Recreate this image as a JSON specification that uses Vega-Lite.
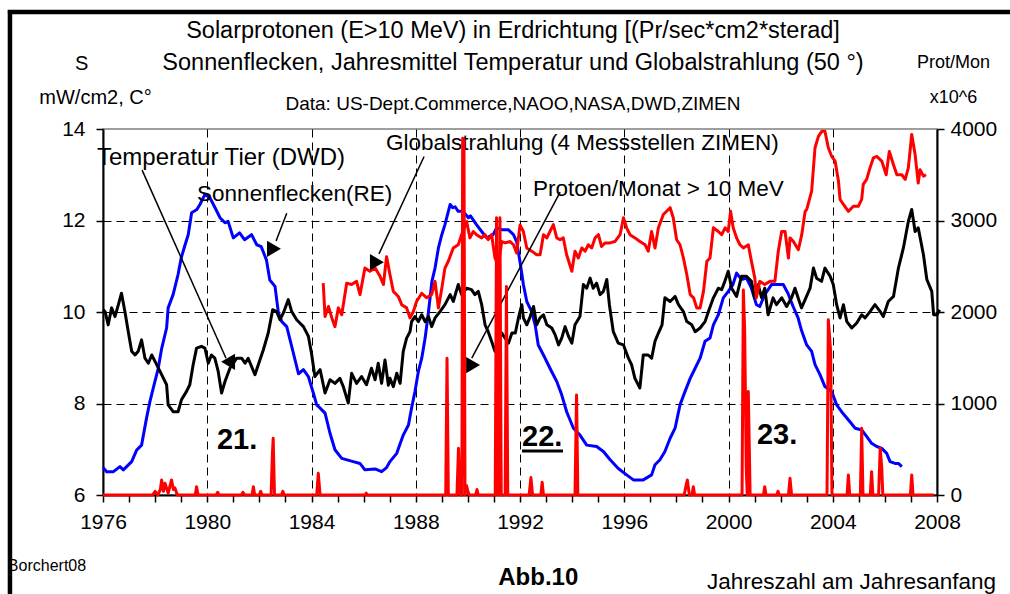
{
 "$schema": "https://vega.github.io/schema/vega-lite/v6.json",
 "width": 834, "height": 366,
 "autosize": {"type": "none"},
 "padding": {"left": 103, "top": 129, "right": 73, "bottom": 99},
 "background": "white",
 "config": {
  "font": "Liberation Sans",
  "view": {"stroke": "#7f7f7f", "strokeWidth": 1.5},
  "axis": {"labelFont": "Liberation Sans", "titleFont": "Liberation Sans", "labelColor": "black", "titleColor": "black", "domainColor": "black", "tickColor": "black", "labelFontSize": 21, "titleFontWeight": "normal", "labelFlush": false, "labelOverlap": false, "domainWidth": 2, "tickWidth": 1.5, "tickSize": 7}
 },
 "title": {
  "text": ["Solarprotonen (E>10 MeV) in Erdrichtung [(Pr/sec*cm2*sterad]", "Sonnenflecken, Jahresmittel Temperatur und Globalstrahlung (50 °)"],
  "subtitle": "Data: US-Dept.Commerce,NAOO,NASA,DWD,ZIMEN",
  "anchor": "middle", "frame": "group", "dx": -7,
  "font": "Liberation Sans", "fontSize": 23.5, "fontWeight": "normal", "color": "black", "lineHeight": 32,
  "subtitleFont": "Liberation Sans", "subtitleFontSize": 19, "subtitleColor": "black", "subtitlePadding": 20, "offset": -106
 },
 "datasets": {
  "blue": [
   {"t":1976.0,"v":6.6},{"t":1976.14,"v":6.51},{"t":1976.4,"v":6.51},{"t":1976.65,"v":6.62},{"t":1976.78,"v":6.55},{"t":1977.1,"v":6.73},{"t":1977.29,"v":6.98},{"t":1977.48,"v":7.09},{"t":1977.67,"v":7.68},{"t":1977.8,"v":8.04},{"t":1977.93,"v":8.34},{"t":1978.12,"v":8.77},{"t":1978.25,"v":9.2},{"t":1978.44,"v":9.65},{"t":1978.5,"v":10.09},{"t":1978.69,"v":10.38},{"t":1978.88,"v":10.82},{"t":1979.0,"v":11.18},{"t":1979.15,"v":11.47},{"t":1979.27,"v":11.69},{"t":1979.4,"v":12.17},{"t":1979.6,"v":12.24},{"t":1979.72,"v":12.35},{"t":1979.91,"v":12.57},{"t":1980.1,"v":12.5},{"t":1980.3,"v":12.28},{"t":1980.49,"v":12.06},{"t":1980.68,"v":11.95},{"t":1980.8,"v":11.98},{"t":1981.0,"v":11.62},{"t":1981.24,"v":11.73},{"t":1981.43,"v":11.58},{"t":1981.7,"v":11.69},{"t":1981.9,"v":11.47},{"t":1982.07,"v":11.43},{"t":1982.27,"v":11.14},{"t":1982.4,"v":10.7},{"t":1982.6,"v":10.56},{"t":1982.73,"v":9.98},{"t":1982.86,"v":9.79},{"t":1983.05,"v":9.68},{"t":1983.24,"v":9.25},{"t":1983.5,"v":8.65},{"t":1983.69,"v":8.74},{"t":1983.88,"v":8.59},{"t":1984.07,"v":8.23},{"t":1984.2,"v":7.97},{"t":1984.33,"v":7.9},{"t":1984.52,"v":7.79},{"t":1984.71,"v":7.35},{"t":1984.9,"v":6.99},{"t":1985.16,"v":6.8},{"t":1985.6,"v":6.73},{"t":1985.86,"v":6.69},{"t":1986.05,"v":6.55},{"t":1986.44,"v":6.57},{"t":1986.69,"v":6.51},{"t":1986.88,"v":6.6},{"t":1987.01,"v":6.73},{"t":1987.27,"v":6.91},{"t":1987.52,"v":7.31},{"t":1987.72,"v":7.53},{"t":1987.84,"v":7.9},{"t":1987.97,"v":8.26},{"t":1988.1,"v":8.7},{"t":1988.23,"v":8.99},{"t":1988.36,"v":9.43},{"t":1988.49,"v":10.01},{"t":1988.62,"v":10.67},{"t":1988.74,"v":10.96},{"t":1988.87,"v":11.4},{"t":1989.0,"v":11.69},{"t":1989.12,"v":11.91},{"t":1989.32,"v":12.35},{"t":1989.42,"v":12.28},{"t":1989.51,"v":12.3},{"t":1989.63,"v":12.2},{"t":1989.82,"v":12.2},{"t":1990.02,"v":12.06},{"t":1990.1,"v":12.1},{"t":1990.33,"v":11.91},{"t":1990.53,"v":11.76},{"t":1990.72,"v":11.62},{"t":1990.97,"v":11.69},{"t":1991.1,"v":11.84},{"t":1991.3,"v":11.8},{"t":1991.55,"v":11.8},{"t":1991.75,"v":11.69},{"t":1991.87,"v":11.54},{"t":1992.0,"v":11.1},{"t":1992.13,"v":10.6},{"t":1992.26,"v":10.23},{"t":1992.45,"v":10.01},{"t":1992.58,"v":9.72},{"t":1992.7,"v":9.28},{"t":1992.9,"v":9.06},{"t":1993.15,"v":8.77},{"t":1993.41,"v":8.48},{"t":1993.6,"v":8.19},{"t":1993.79,"v":7.82},{"t":1994.05,"v":7.46},{"t":1994.3,"v":7.31},{"t":1994.56,"v":7.09},{"t":1994.94,"v":7.06},{"t":1995.2,"v":6.95},{"t":1995.46,"v":6.77},{"t":1995.77,"v":6.58},{"t":1996.09,"v":6.44},{"t":1996.35,"v":6.33},{"t":1996.73,"v":6.33},{"t":1997.05,"v":6.44},{"t":1997.18,"v":6.66},{"t":1997.37,"v":6.77},{"t":1997.56,"v":6.95},{"t":1997.76,"v":7.24},{"t":1997.95,"v":7.46},{"t":1998.14,"v":7.97},{"t":1998.33,"v":8.26},{"t":1998.53,"v":8.55},{"t":1998.72,"v":8.77},{"t":1998.91,"v":8.99},{"t":1999.1,"v":9.36},{"t":1999.29,"v":9.43},{"t":1999.42,"v":9.72},{"t":1999.61,"v":9.94},{"t":1999.8,"v":10.31},{"t":1999.99,"v":10.45},{"t":2000.17,"v":10.6},{"t":2000.31,"v":10.85},{"t":2000.5,"v":10.71},{"t":2000.69,"v":10.74},{"t":2000.88,"v":10.52},{"t":2001.07,"v":10.16},{"t":2001.2,"v":10.12},{"t":2001.39,"v":10.38},{"t":2001.65,"v":10.6},{"t":2001.83,"v":10.6},{"t":2002.1,"v":10.6},{"t":2002.28,"v":10.41},{"t":2002.48,"v":10.12},{"t":2002.67,"v":9.87},{"t":2002.8,"v":9.6},{"t":2003.0,"v":9.28},{"t":2003.19,"v":9.14},{"t":2003.32,"v":8.85},{"t":2003.51,"v":8.63},{"t":2003.7,"v":8.37},{"t":2003.96,"v":8.26},{"t":2004.15,"v":7.97},{"t":2004.34,"v":7.82},{"t":2004.66,"v":7.6},{"t":2004.86,"v":7.46},{"t":2005.11,"v":7.42},{"t":2005.3,"v":7.28},{"t":2005.49,"v":7.13},{"t":2005.69,"v":7.06},{"t":2005.88,"v":7.02},{"t":2006.07,"v":6.91},{"t":2006.2,"v":6.73},{"t":2006.39,"v":6.69},{"t":2006.52,"v":6.69},{"t":2006.65,"v":6.62}
  ],
  "black": [
   {"t":1976.0,"v":10.05},{"t":1976.08,"v":10.01},{"t":1976.2,"v":9.72},{"t":1976.33,"v":10.09},{"t":1976.46,"v":9.9},{"t":1976.59,"v":10.16},{"t":1976.71,"v":10.41},{"t":1976.84,"v":10.01},{"t":1976.97,"v":9.57},{"t":1977.1,"v":9.14},{"t":1977.23,"v":9.06},{"t":1977.35,"v":9.14},{"t":1977.48,"v":9.39},{"t":1977.61,"v":8.99},{"t":1977.74,"v":8.88},{"t":1977.87,"v":9.06},{"t":1978.06,"v":8.85},{"t":1978.25,"v":8.63},{"t":1978.44,"v":8.41},{"t":1978.5,"v":7.97},{"t":1978.69,"v":7.82},{"t":1978.88,"v":7.82},{"t":1979.01,"v":8.08},{"t":1979.2,"v":8.26},{"t":1979.33,"v":8.41},{"t":1979.46,"v":8.85},{"t":1979.59,"v":9.21},{"t":1979.78,"v":9.25},{"t":1979.91,"v":9.21},{"t":1980.04,"v":8.88},{"t":1980.16,"v":9.06},{"t":1980.29,"v":8.99},{"t":1980.42,"v":8.7},{"t":1980.55,"v":8.23},{"t":1980.68,"v":8.48},{"t":1980.87,"v":8.77},{"t":1981.0,"v":8.88},{"t":1981.13,"v":8.99},{"t":1981.32,"v":8.99},{"t":1981.45,"v":8.88},{"t":1981.57,"v":8.99},{"t":1981.83,"v":8.63},{"t":1982.02,"v":8.95},{"t":1982.15,"v":9.17},{"t":1982.34,"v":9.54},{"t":1982.51,"v":10.05},{"t":1982.66,"v":10.01},{"t":1982.79,"v":9.83},{"t":1982.92,"v":9.98},{"t":1983.11,"v":10.27},{"t":1983.24,"v":10.01},{"t":1983.43,"v":9.83},{"t":1983.69,"v":9.68},{"t":1983.88,"v":9.47},{"t":1984.0,"v":9.1},{"t":1984.13,"v":8.59},{"t":1984.33,"v":8.74},{"t":1984.52,"v":8.23},{"t":1984.71,"v":8.52},{"t":1984.9,"v":8.44},{"t":1985.09,"v":8.55},{"t":1985.22,"v":8.37},{"t":1985.41,"v":8.01},{"t":1985.54,"v":8.66},{"t":1985.73,"v":8.44},{"t":1985.92,"v":8.59},{"t":1986.11,"v":8.41},{"t":1986.3,"v":8.77},{"t":1986.44,"v":8.52},{"t":1986.56,"v":8.88},{"t":1986.69,"v":8.44},{"t":1986.82,"v":8.95},{"t":1986.95,"v":8.4},{"t":1987.01,"v":8.55},{"t":1987.14,"v":8.37},{"t":1987.27,"v":8.66},{"t":1987.4,"v":8.44},{"t":1987.52,"v":9.14},{"t":1987.65,"v":9.43},{"t":1987.78,"v":9.57},{"t":1987.84,"v":9.79},{"t":1987.97,"v":9.9},{"t":1988.1,"v":9.79},{"t":1988.23,"v":9.94},{"t":1988.36,"v":9.79},{"t":1988.49,"v":9.9},{"t":1988.61,"v":9.68},{"t":1988.74,"v":9.87},{"t":1988.93,"v":10.01},{"t":1989.12,"v":10.16},{"t":1989.32,"v":10.38},{"t":1989.44,"v":10.23},{"t":1989.63,"v":10.6},{"t":1989.76,"v":10.38},{"t":1989.95,"v":10.52},{"t":1990.14,"v":10.49},{"t":1990.27,"v":10.38},{"t":1990.4,"v":10.45},{"t":1990.53,"v":10.16},{"t":1990.66,"v":9.72},{"t":1990.78,"v":9.57},{"t":1990.91,"v":9.36},{"t":1991.04,"v":9.14},{"t":1991.17,"v":9.43},{"t":1991.3,"v":9.54},{"t":1991.43,"v":9.43},{"t":1991.56,"v":9.32},{"t":1991.69,"v":9.54},{"t":1991.82,"v":9.54},{"t":1991.94,"v":9.87},{"t":1992.07,"v":10.16},{"t":1992.13,"v":9.87},{"t":1992.26,"v":9.72},{"t":1992.39,"v":9.9},{"t":1992.52,"v":10.12},{"t":1992.64,"v":9.72},{"t":1992.77,"v":9.87},{"t":1992.9,"v":9.94},{"t":1993.03,"v":9.72},{"t":1993.22,"v":9.65},{"t":1993.35,"v":9.5},{"t":1993.48,"v":9.28},{"t":1993.6,"v":9.43},{"t":1993.73,"v":9.68},{"t":1993.86,"v":9.47},{"t":1993.99,"v":9.32},{"t":1994.11,"v":9.72},{"t":1994.3,"v":9.9},{"t":1994.43,"v":10.6},{"t":1994.56,"v":10.52},{"t":1994.69,"v":10.74},{"t":1994.81,"v":10.52},{"t":1994.94,"v":10.63},{"t":1995.07,"v":10.38},{"t":1995.2,"v":10.45},{"t":1995.33,"v":10.71},{"t":1995.43,"v":10.16},{"t":1995.58,"v":9.57},{"t":1995.77,"v":9.32},{"t":1995.97,"v":9.28},{"t":1996.16,"v":8.99},{"t":1996.28,"v":8.85},{"t":1996.41,"v":8.55},{"t":1996.6,"v":8.34},{"t":1996.73,"v":9.06},{"t":1996.92,"v":9.06},{"t":1997.05,"v":8.99},{"t":1997.18,"v":9.36},{"t":1997.31,"v":9.54},{"t":1997.45,"v":9.72},{"t":1997.56,"v":10.31},{"t":1997.76,"v":10.23},{"t":1997.95,"v":10.34},{"t":1998.08,"v":10.16},{"t":1998.27,"v":10.01},{"t":1998.4,"v":9.79},{"t":1998.59,"v":9.72},{"t":1998.72,"v":9.57},{"t":1998.91,"v":9.65},{"t":1999.1,"v":9.79},{"t":1999.23,"v":10.01},{"t":1999.42,"v":10.31},{"t":1999.61,"v":10.52},{"t":1999.74,"v":10.49},{"t":1999.86,"v":10.67},{"t":1999.99,"v":10.89},{"t":2000.12,"v":10.52},{"t":2000.31,"v":10.34},{"t":2000.5,"v":10.78},{"t":2000.69,"v":10.78},{"t":2000.88,"v":10.67},{"t":2001.0,"v":10.31},{"t":2001.14,"v":10.6},{"t":2001.27,"v":10.31},{"t":2001.39,"v":10.52},{"t":2001.52,"v":9.94},{"t":2001.71,"v":10.31},{"t":2001.84,"v":10.16},{"t":2002.04,"v":10.31},{"t":2002.23,"v":10.12},{"t":2002.42,"v":10.31},{"t":2002.55,"v":10.52},{"t":2002.67,"v":10.31},{"t":2002.8,"v":10.09},{"t":2002.94,"v":10.27},{"t":2003.13,"v":10.52},{"t":2003.26,"v":10.96},{"t":2003.38,"v":10.74},{"t":2003.57,"v":10.67},{"t":2003.7,"v":10.96},{"t":2003.9,"v":10.78},{"t":2004.02,"v":10.6},{"t":2004.15,"v":10.16},{"t":2004.28,"v":9.87},{"t":2004.41,"v":10.16},{"t":2004.54,"v":9.79},{"t":2004.73,"v":9.65},{"t":2004.92,"v":9.76},{"t":2005.11,"v":9.94},{"t":2005.24,"v":9.87},{"t":2005.43,"v":10.01},{"t":2005.62,"v":10.16},{"t":2005.82,"v":10.01},{"t":2005.94,"v":9.9},{"t":2006.13,"v":10.23},{"t":2006.33,"v":10.34},{"t":2006.52,"v":10.96},{"t":2006.71,"v":11.4},{"t":2006.9,"v":11.98},{"t":2007.03,"v":12.24},{"t":2007.16,"v":11.76},{"t":2007.28,"v":11.84},{"t":2007.48,"v":11.25},{"t":2007.61,"v":10.71},{"t":2007.8,"v":10.45},{"t":2007.87,"v":9.94},{"t":2008.0,"v":9.94},{"t":2008.1,"v":10.05}
  ],
  "global": [
   {"t":1984.45,"v":10.63},{"t":1984.52,"v":9.9},{"t":1984.65,"v":10.12},{"t":1984.78,"v":9.87},{"t":1984.9,"v":9.68},{"t":1985.03,"v":10.09},{"t":1985.16,"v":9.94},{"t":1985.35,"v":10.63},{"t":1985.54,"v":10.6},{"t":1985.73,"v":10.67},{"t":1985.86,"v":10.38},{"t":1986.05,"v":10.96},{"t":1986.24,"v":10.89},{"t":1986.44,"v":10.96},{"t":1986.63,"v":10.78},{"t":1986.76,"v":10.6},{"t":1986.88,"v":11.21},{"t":1987.01,"v":10.82},{"t":1987.14,"v":10.45},{"t":1987.33,"v":10.34},{"t":1987.46,"v":10.16},{"t":1987.65,"v":10.09},{"t":1987.78,"v":9.87},{"t":1987.91,"v":10.01},{"t":1988.03,"v":10.23},{"t":1988.23,"v":10.41},{"t":1988.42,"v":10.31},{"t":1988.61,"v":10.38},{"t":1988.74,"v":10.67},{"t":1988.87,"v":10.09},{"t":1989.0,"v":10.52},{"t":1989.12,"v":10.96},{"t":1989.25,"v":11.11},{"t":1989.44,"v":11.4},{"t":1989.63,"v":11.47},{"t":1989.76,"v":11.69},{"t":1989.95,"v":11.98},{"t":1990.08,"v":11.62},{"t":1990.21,"v":11.76},{"t":1990.33,"v":11.69},{"t":1990.53,"v":11.62},{"t":1990.66,"v":11.69},{"t":1990.78,"v":11.58},{"t":1990.91,"v":11.69},{"t":1991.04,"v":11.18},{"t":1991.17,"v":11.03},{"t":1991.3,"v":11.54},{"t":1991.43,"v":11.51},{"t":1991.62,"v":11.54},{"t":1991.75,"v":11.47},{"t":1991.87,"v":11.29},{"t":1992.0,"v":11.9},{"t":1992.13,"v":11.76},{"t":1992.26,"v":11.4},{"t":1992.45,"v":11.33},{"t":1992.64,"v":11.25},{"t":1992.77,"v":11.25},{"t":1992.9,"v":11.69},{"t":1993.03,"v":11.62},{"t":1993.15,"v":11.76},{"t":1993.28,"v":11.91},{"t":1993.41,"v":11.62},{"t":1993.54,"v":11.58},{"t":1993.66,"v":11.62},{"t":1993.79,"v":11.25},{"t":1993.99,"v":10.89},{"t":1994.11,"v":11.33},{"t":1994.24,"v":11.18},{"t":1994.37,"v":11.4},{"t":1994.5,"v":11.33},{"t":1994.62,"v":11.47},{"t":1994.75,"v":11.4},{"t":1994.88,"v":11.62},{"t":1995.01,"v":11.69},{"t":1995.13,"v":11.43},{"t":1995.26,"v":11.51},{"t":1995.45,"v":11.51},{"t":1995.64,"v":11.54},{"t":1995.84,"v":11.69},{"t":1995.97,"v":12.06},{"t":1996.09,"v":11.84},{"t":1996.22,"v":11.69},{"t":1996.41,"v":11.62},{"t":1996.6,"v":11.54},{"t":1996.8,"v":11.47},{"t":1996.92,"v":11.33},{"t":1997.05,"v":11.76},{"t":1997.18,"v":11.4},{"t":1997.31,"v":11.84},{"t":1997.5,"v":12.13},{"t":1997.76,"v":12.28},{"t":1997.88,"v":12.06},{"t":1998.01,"v":11.58},{"t":1998.14,"v":11.47},{"t":1998.27,"v":11.18},{"t":1998.4,"v":10.82},{"t":1998.53,"v":10.38},{"t":1998.66,"v":10.31},{"t":1998.78,"v":10.09},{"t":1998.91,"v":10.09},{"t":1999.04,"v":10.45},{"t":1999.17,"v":11.11},{"t":1999.29,"v":11.18},{"t":1999.42,"v":11.84},{"t":1999.61,"v":11.76},{"t":1999.74,"v":11.69},{"t":1999.87,"v":11.84},{"t":1999.99,"v":11.76},{"t":2000.08,"v":12.2},{"t":2000.18,"v":11.84},{"t":2000.31,"v":11.62},{"t":2000.44,"v":11.47},{"t":2000.57,"v":11.4},{"t":2000.76,"v":11.47},{"t":2000.88,"v":11.11},{"t":2001.01,"v":10.74},{"t":2001.07,"v":10.31},{"t":2001.2,"v":10.67},{"t":2001.39,"v":10.6},{"t":2001.59,"v":10.67},{"t":2001.78,"v":10.67},{"t":2001.91,"v":11.33},{"t":2002.04,"v":11.76},{"t":2002.17,"v":11.76},{"t":2002.3,"v":11.18},{"t":2002.36,"v":11.62},{"t":2002.49,"v":11.54},{"t":2002.68,"v":11.36},{"t":2002.81,"v":11.69},{"t":2002.94,"v":12.2},{"t":2003.0,"v":12.24},{"t":2003.19,"v":12.64},{"t":2003.32,"v":13.59},{"t":2003.45,"v":13.84},{"t":2003.58,"v":13.95},{"t":2003.7,"v":13.95},{"t":2003.83,"v":13.59},{"t":2003.96,"v":13.4},{"t":2004.09,"v":13.3},{"t":2004.22,"v":12.86},{"t":2004.28,"v":12.46},{"t":2004.41,"v":12.35},{"t":2004.6,"v":12.2},{"t":2004.79,"v":12.31},{"t":2004.98,"v":12.31},{"t":2005.11,"v":12.46},{"t":2005.17,"v":12.79},{"t":2005.3,"v":12.9},{"t":2005.43,"v":13.15},{"t":2005.56,"v":13.37},{"t":2005.69,"v":13.4},{"t":2005.88,"v":13.3},{"t":2006.05,"v":13.0},{"t":2006.17,"v":13.51},{"t":2006.33,"v":13.22},{"t":2006.46,"v":13.0},{"t":2006.65,"v":13.0},{"t":2006.78,"v":12.9},{"t":2006.9,"v":13.15},{"t":2007.03,"v":13.88},{"t":2007.16,"v":13.44},{"t":2007.28,"v":12.82},{"t":2007.35,"v":13.11},{"t":2007.48,"v":12.97},{"t":2007.58,"v":13.0}
  ],
  "protons": [
   {"t":1976.0,"p":0},{"t":1977.9,"p":0},{"t":1978.0,"p":40},{"t":1978.1,"p":0},{"t":1978.2,"p":60},{"t":1978.25,"p":164},{"t":1978.32,"p":40},{"t":1978.38,"p":128},{"t":1978.5,"p":20},{"t":1978.63,"p":164},{"t":1978.7,"p":60},{"t":1978.76,"p":77},{"t":1978.85,"p":0},{"t":1979.54,"p":0},{"t":1979.59,"p":91},{"t":1979.65,"p":0},{"t":1980.35,"p":0},{"t":1980.4,"p":30},{"t":1980.45,"p":0},{"t":1981.3,"p":0},{"t":1981.37,"p":30},{"t":1981.44,"p":0},{"t":1981.72,"p":0},{"t":1981.77,"p":91},{"t":1981.82,"p":0},{"t":1982.0,"p":0},{"t":1982.05,"p":40},{"t":1982.1,"p":0},{"t":1982.45,"p":0},{"t":1982.5,"p":450},{"t":1982.53,"p":620},{"t":1982.58,"p":0},{"t":1982.85,"p":0},{"t":1982.9,"p":40},{"t":1982.95,"p":0},{"t":1984.2,"p":0},{"t":1984.26,"p":237},{"t":1984.33,"p":0},{"t":1986.05,"p":0},{"t":1986.1,"p":20},{"t":1986.15,"p":0},{"t":1989.15,"p":0},{"t":1989.2,"p":1495},{"t":1989.25,"p":0},{"t":1989.58,"p":0},{"t":1989.64,"p":511},{"t":1989.7,"p":0},{"t":1989.77,"p":0},{"t":1989.8,"p":3900},{"t":1989.85,"p":3880},{"t":1989.89,"p":0},{"t":1989.95,"p":100},{"t":1990.0,"p":40},{"t":1990.05,"p":0},{"t":1990.3,"p":0},{"t":1990.35,"p":60},{"t":1990.4,"p":0},{"t":1991.05,"p":0},{"t":1991.1,"p":3030},{"t":1991.15,"p":0},{"t":1991.19,"p":0},{"t":1991.23,"p":3030},{"t":1991.28,"p":0},{"t":1991.43,"p":0},{"t":1991.48,"p":2280},{"t":1991.53,"p":0},{"t":1992.35,"p":0},{"t":1992.42,"p":190},{"t":1992.48,"p":0},{"t":1992.8,"p":0},{"t":1992.85,"p":140},{"t":1992.9,"p":0},{"t":1994.11,"p":0},{"t":1994.17,"p":1094},{"t":1994.22,"p":0},{"t":1998.3,"p":0},{"t":1998.37,"p":100},{"t":1998.42,"p":164},{"t":1998.5,"p":0},{"t":1998.6,"p":0},{"t":1998.65,"p":91},{"t":1998.7,"p":0},{"t":2000.52,"p":0},{"t":2000.57,"p":2240},{"t":2000.62,"p":1800},{"t":2000.68,"p":300},{"t":2000.72,"p":0},{"t":2000.76,"p":1130},{"t":2000.83,"p":0},{"t":2001.34,"p":0},{"t":2001.39,"p":91},{"t":2001.44,"p":0},{"t":2001.85,"p":0},{"t":2001.9,"p":40},{"t":2001.95,"p":0},{"t":2002.3,"p":0},{"t":2002.36,"p":182},{"t":2002.42,"p":0},{"t":2003.78,"p":0},{"t":2003.83,"p":1914},{"t":2003.92,"p":1568},{"t":2003.97,"p":0},{"t":2004.55,"p":0},{"t":2004.6,"p":219},{"t":2004.65,"p":0},{"t":2005.06,"p":0},{"t":2005.11,"p":730},{"t":2005.16,"p":0},{"t":2005.44,"p":0},{"t":2005.49,"p":255},{"t":2005.54,"p":0},{"t":2005.76,"p":0},{"t":2005.82,"p":511},{"t":2005.88,"p":300},{"t":2005.92,"p":0},{"t":2006.98,"p":0},{"t":2007.03,"p":219},{"t":2007.08,"p":0},{"t":2007.88,"p":0}
  ],
  "labels": [
   {"t":1975.77,"v":13.37,"txt":"Temperatur Tier (DWD)"},
   {"t":1979.61,"v":12.58,"txt":"Sonnenflecken(RE)"},
   {"t":1986.86,"v":13.69,"txt":"Globalstrahlung (4 Messstellen ZIMEN)"},
   {"t":1992.5,"v":12.69,"txt":"Protoen/Monat > 10 MeV"}
  ],
  "nums": [
   {"t":1980.37,"v":7.2,"txt":"21."},
   {"t":1992.08,"v":7.27,"txt":"22."},
   {"t":2001.09,"v":7.31,"txt":"23."}
  ],
  "underline": [{"t":1992.08,"v":6.96,"t2":1993.65,"v2":6.96}],
  "arrows": [
   {"t":1977.5,"v":13.1,"t2":1980.72,"v2":8.99},
   {"t":1983.05,"v":12.16,"t2":1982.64,"v2":11.55},
   {"t":1988.32,"v":13.4,"t2":1986.59,"v2":11.27},
   {"t":1993.54,"v":12.62,"t2":1990.15,"v2":8.99}
  ],
  "heads": [
   {"t":1980.8,"v":8.91,"arrow":"A1"},
   {"t":1982.56,"v":11.38,"arrow":"A2"},
   {"t":1986.51,"v":11.09,"arrow":"A3"},
   {"t":1990.2,"v":8.84,"arrow":"A4"}
  ],
  "frame": [
   {"t":1972.43,"v":16.6,"t2":1972.43,"v2":3.7},
   {"t":1972.35,"v":16.557,"t2":2011,"v2":16.557}
  ],
  "bottomtext": [{"t":1972.35,"v":4.45,"txt":"Borchert08"}],
  "abb": [{"t":1992.7,"v":4.19,"txt":"Abb.10"}]
 },
 "encoding": {
  "x": {"field": "t", "type": "quantitative", "scale": {"domain": [1976, 2008], "nice": false, "zero": false},
   "axis": {
    "values": [1976,1977,1978,1979,1980,1981,1982,1983,1984,1985,1986,1987,1988,1989,1990,1991,1992,1993,1994,1995,1996,1997,1998,1999,2000,2001,2002,2003,2004,2005,2006,2007,2008],
    "format": "d",
    "labelExpr": "datum.value % 4 === 0 ? datum.label : ''",
    "grid": true, "gridColor": "black", "gridDash": [8, 5], "gridWidth": 1,
    "gridOpacity": {"condition": {"test": "datum.value % 4 === 0 && datum.value > 1976 && datum.value < 2008", "value": 1}, "value": 0},
    "labelPadding": 9,
    "title": "Jahreszahl am Jahresanfang", "titleFontSize": 22.5, "titleX": 748, "titleY": 75, "titleAlign": "center", "titleBaseline": "top"
   }}
 },
 "layer": [
  {
   "encoding": {"y": {"field": "v", "type": "quantitative", "scale": {"domain": [6, 14], "nice": false, "zero": false},
    "axis": {"values": [6, 8, 10, 12, 14], "grid": true, "gridColor": "black", "gridDash": [8, 5], "gridWidth": 1,
     "gridOpacity": {"condition": {"test": "datum.value > 6 && datum.value < 14", "value": 1}, "value": 0},
     "labelPadding": 11,
     "title": ["S\u00a0\u00a0\u00a0\u00a0\u00a0\u200b", "mW/cm2, C°"], "titleAngle": 0, "titleAlign": "center", "titleBaseline": "top", "titleX": -8, "titleY": -76, "titleFontSize": 20, "titleLineHeight": 34}}},
   "layer": [
    {"data": {"name": "frame"}, "mark": {"type": "rule", "color": "black", "strokeWidth": 4.5, "clip": false},
     "encoding": {"x2": {"field": "t2"}, "y2": {"field": "v2"}}},
    {"data": {"name": "blue"}, "mark": {"type": "line", "color": "#0000ff", "strokeWidth": 3, "strokeJoin": "round"}},
    {"data": {"name": "black"}, "mark": {"type": "line", "color": "black", "strokeWidth": 3, "strokeJoin": "round", "clip": false}},
    {"data": {"name": "global"}, "mark": {"type": "line", "color": "#ff0000", "strokeWidth": 3, "strokeJoin": "round"}},
    {"data": {"name": "arrows"}, "mark": {"type": "rule", "color": "black", "strokeWidth": 1.5},
     "encoding": {"x2": {"field": "t2"}, "y2": {"field": "v2"}}},
    {"data": {"name": "heads"}, "mark": {"type": "point", "filled": true, "color": "black", "opacity": 1, "size": 260},
     "encoding": {"shape": {"field": "arrow", "type": "nominal", "scale": {"domain": ["A1", "A2", "A3", "A4"], "range": ["triangle-left", "triangle-right", "triangle-right", "triangle-right"]}, "legend": null}}},
    {"data": {"name": "labels"}, "transform": [{"filter": "datum.txt === 'Temperatur Tier (DWD)'"}],
     "mark": {"type": "text", "align": "left", "baseline": "middle", "fontSize": 24, "font": "Liberation Sans", "color": "black"},
     "encoding": {"text": {"field": "txt"}}},
    {"data": {"name": "labels"}, "transform": [{"filter": "datum.txt !== 'Temperatur Tier (DWD)'"}],
     "mark": {"type": "text", "align": "left", "baseline": "middle", "fontSize": 22.5, "font": "Liberation Sans", "color": "black"},
     "encoding": {"text": {"field": "txt"}}},
    {"data": {"name": "nums"}, "mark": {"type": "text", "align": "left", "baseline": "middle", "fontSize": 29, "fontWeight": "bold", "font": "Liberation Sans", "color": "black"},
     "encoding": {"text": {"field": "txt"}}},
    {"data": {"name": "underline"}, "mark": {"type": "rule", "color": "black", "strokeWidth": 3},
     "encoding": {"x2": {"field": "t2"}, "y2": {"field": "v2"}}},
    {"data": {"name": "bottomtext"}, "mark": {"type": "text", "align": "left", "baseline": "middle", "fontSize": 16, "font": "Liberation Sans", "color": "black", "clip": false},
     "encoding": {"text": {"field": "txt"}}},
    {"data": {"name": "abb"}, "mark": {"type": "text", "align": "center", "baseline": "middle", "fontSize": 24, "fontWeight": "bold", "font": "Liberation Sans", "color": "black"},
     "encoding": {"text": {"field": "txt"}}}
   ]
  },
  {
   "data": {"name": "protons"},
   "mark": {"type": "line", "color": "#ff0000", "strokeWidth": 3, "strokeJoin": "round"},
   "encoding": {"y": {"field": "p", "type": "quantitative", "scale": {"domain": [0, 4000], "nice": false, "zero": true},
    "axis": {"orient": "right", "values": [0, 1000, 2000, 3000, 4000], "format": "d", "grid": false, "labelPadding": 6,
     "title": ["Prot/Mon", "x10^6"], "titleAngle": 0, "titleAlign": "center", "titleBaseline": "top", "titleX": 16, "titleY": -76, "titleFontSize": 18, "titleLineHeight": 35}}}
  }
 ],
 "resolve": {"scale": {"y": "independent"}}
}
